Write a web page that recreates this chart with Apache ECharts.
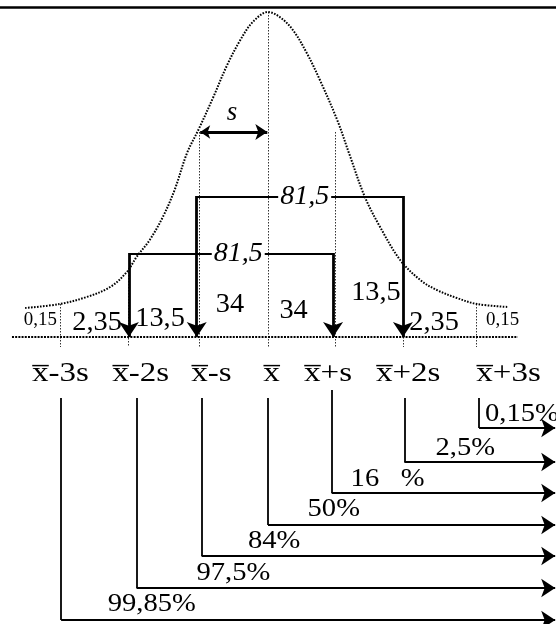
<!DOCTYPE html>
<html>
<head>
<meta charset="utf-8">
<script src="https://cdn.jsdelivr.net/npm/echarts@6/dist/echarts.min.js"></script>
<style>
  html, body { margin: 0; padding: 0; background: #fff; }
  #main { width: 556px; height: 624px; }
</style>
</head>
<body>
<div id="main"></div>
<script>
// x: distance from the mean in units of s;  y: height above the baseline

// bell curve
var curveX = [-3.51, -3.01, -2.62, -2.28, -2.04, -1.90, -1.71, -1.52, -1.35, -1.17, -1.00, -0.79, -0.59, -0.40, -0.22, 0,
              0.17, 0.36, 0.56, 0.75, 1.00, 1.18, 1.40, 1.62, 1.91, 2.20, 2.44, 2.73, 3.02, 3.47];
var curveY = [29, 33, 40, 50, 65, 80, 97, 120, 147, 184, 208, 240, 272, 297, 315, 325,
              320, 307, 284, 257, 217, 182, 140, 110, 77, 57, 47, 39, 33, 30];

// dotted guides at the s marks
var guideX = [-3, -2.02, -1, 0, 0.97, 1.95, 3.01];
var guideTop = [33, 65, 205, 325, 205, 75, 33];
var guideBottom = -10;
var baseFrom = -3.70, baseTo = 3.61;

// axis labels
var tickLabels = ['x\u0305-3s', 'x\u0305-2s', 'x\u0305-s', 'x\u0305', 'x\u0305+s', 'x\u0305+2s', 'x\u0305+3s'];
var tickLabelX = [-3.41, -2.25, -1.11, -0.07, 0.52, 1.56, 3.01];
var tickLabelY = -37;

// share of each band, %
var bandText = ['2,35', '13,5', '34', '34', '13,5', '2,35'];
var bandX = [-2.47, -1.56, -0.55, 0.37, 1.56, 2.40];
var bandY = [14, 18, 32, 26, 44, 14];
var tailText = ['0,15', '0,15'];
var tailX = [-3.29, 3.39];
var tailY = [17, 17];

// width marker "s"
var sArrow = [-0.98, -0.01];
var sArrowY = 205;
var sLabel = ['s'];
var sLabelX = [-0.52], sLabelY = [224];

// the two 81,5 brackets
var bracketFrom = [-1.03, -2.01];
var bracketTo = [1.95, 0.94];
var bracketY = [140, 83];
var bracketText = ['81,5', '81,5'];
var bracketTextX = [0.53, -0.43];

// cumulative shares
var cumX = [3.05, 1.97, 0.92, 0, -0.96, -1.90, -2.99];
var cumTop = [-61, -61, -53, -61, -61, -61, -61];
var cumRow = [-91, -125, -156, -188, -219, -251, -283];
var cumEnd = 4.15;
var cumText = ['0,15%', '2,5%', '16', '%', '50%', '84%', '97,5%', '99,85%'];
var cumTextX = [3.67, 2.85, 1.40, 2.09, 0.95, 0.09, -0.50, -1.68];
var cumTextY = [-77, -111, -142, -142, -172, -204, -236, -267];

var topRuleY = 330;

function seg(x1, y1, x2, y2) {
  return { coords: [[x1, y1], [x2, y2]] };
}

function textSeries(xs, ys, texts, size, italic, sx, align, extra) {
  return {
    type: 'custom',
    coordinateSystem: 'cartesian2d',
    silent: true,
    z: 10,
    data: xs.map(function (x, i) { return [x, ys[i]]; }),
    renderItem: function (params, api) {
      var p = api.coord([api.value(0), api.value(1)]);
      var st = {
        text: texts[params.dataIndex], x: 0, y: 0,
        fontFamily: 'Liberation Serif', fontSize: size,
        fontStyle: italic ? 'italic' : 'normal', fill: '#000',
        align: align || 'center', verticalAlign: 'middle'
      };
      if (extra) for (var k in extra) st[k] = extra[k];
      return { type: 'text', x: p[0], y: p[1], scaleX: sx, style: st };
    }
  };
}

var guides = [], bracketLines = [], bracketArrows = [], cumV = [], cumH = [];
for (var i = 0; i < guideX.length; i++) {
  guides.push(seg(guideX[i], guideTop[i], guideX[i], guideBottom));
}
for (var i = 0; i < bracketFrom.length; i++) {
  bracketLines.push(seg(bracketFrom[i], bracketY[i], bracketTo[i], bracketY[i]));
  bracketArrows.push(seg(bracketFrom[i], bracketY[i] + 1, bracketFrom[i], 0));
  bracketArrows.push(seg(bracketTo[i], bracketY[i] + 1, bracketTo[i], 0));
}
for (var i = 0; i < cumX.length; i++) {
  cumV.push(seg(cumX[i], cumTop[i], cumX[i], cumRow[i]));
  cumH.push(seg(cumX[i], cumRow[i], cumEnd, cumRow[i]));
}

var chart = echarts.init(document.getElementById('main'));
chart.setOption({
  animation: false,
  backgroundColor: '#fff',
  grid: { left: 0, right: 0, top: 0, bottom: 0 },
  xAxis: { type: 'value', min: -3.873, max: 4.162, show: false },
  yAxis: { type: 'value', min: -287, max: 337, show: false },
  series: [
    {
      type: 'lines', coordinateSystem: 'cartesian2d', silent: true,
      lineStyle: { color: '#000', width: 2.5, opacity: 1 },
      data: [seg(-3.873, topRuleY, 4.162, topRuleY)]
    },
    {
      type: 'line', silent: true, smooth: 0.35, symbol: 'none',
      lineStyle: { color: '#000', width: 2, type: [1.6, 1.4] },
      data: curveX.map(function (x, i) { return [x, curveY[i]]; })
    },
    {
      type: 'lines', coordinateSystem: 'cartesian2d', silent: true,
      lineStyle: { color: '#333', width: 1, type: [1.5, 1.5], opacity: 1 },
      data: guides
    },
    {
      type: 'lines', coordinateSystem: 'cartesian2d', silent: true,
      lineStyle: { color: '#000', width: 2, type: [2, 1.2], opacity: 1 },
      data: [seg(baseFrom, 0, baseTo, 0)]
    },
    {
      type: 'lines', coordinateSystem: 'cartesian2d', silent: true,
      symbol: ['arrow', 'arrow'], symbolSize: [10, 12],
      lineStyle: { color: '#000', width: 3, opacity: 1 },
      data: [seg(sArrow[0], sArrowY, sArrow[1], sArrowY)]
    },
    {
      type: 'lines', coordinateSystem: 'cartesian2d', silent: true,
      lineStyle: { color: '#000', width: 1.8, opacity: 1 },
      data: bracketLines
    },
    {
      type: 'lines', coordinateSystem: 'cartesian2d', silent: true,
      symbol: ['none', 'arrow'], symbolSize: [11, 15],
      lineStyle: { color: '#000', width: 2.8, opacity: 1 },
      data: bracketArrows
    },
    {
      type: 'lines', coordinateSystem: 'cartesian2d', silent: true,
      lineStyle: { color: '#000', width: 1.8, opacity: 1 },
      data: cumV
    },
    {
      type: 'lines', coordinateSystem: 'cartesian2d', silent: true,
      symbol: ['none', 'arrow'], symbolSize: [11, 14],
      lineStyle: { color: '#000', width: 2, opacity: 1 },
      data: cumH
    },
    textSeries(bracketTextX, bracketY, bracketText, 28, true, 1, 'center',
      { backgroundColor: '#fff', padding: [0, 2] }),
    textSeries(sLabelX, sLabelY, sLabel, 27, true, 1),
    textSeries(bandX, bandY, bandText, 27, false, 1.05),
    textSeries(tailX, tailY, tailText, 18, false, 1.05),
    textSeries(tickLabelX, tickLabelX.map(function () { return tickLabelY; }), tickLabels, 28, false, 1.18, 'left'),
    textSeries(cumTextX, cumTextY, cumText, 26, false, 1.1)
  ]
});
</script>
</body>
</html>
